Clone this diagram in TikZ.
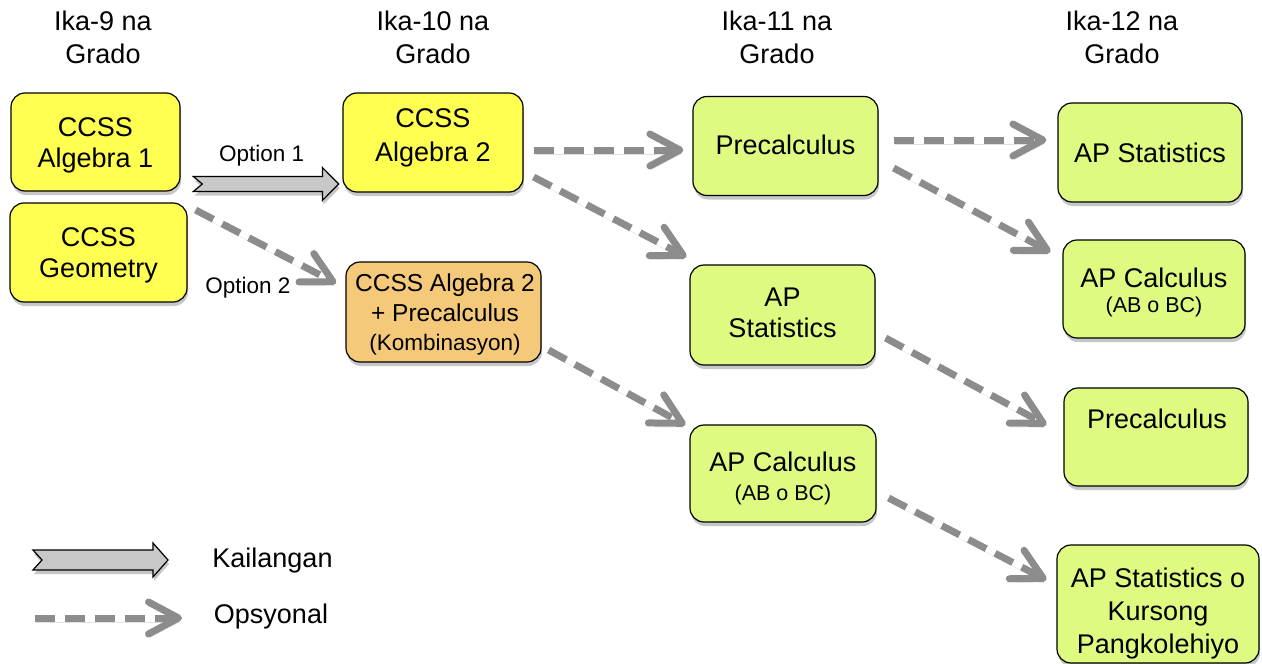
\documentclass[tikz,border=0pt]{standalone}
\usepackage{fontspec}
\setmainfont{Liberation Sans}
\usetikzlibrary{arrows.meta,shadows,calc}
\definecolor{cyel}{HTML}{FFFF52}
\definecolor{cgrn}{HTML}{DFFA80}
\definecolor{corg}{HTML}{F5C97A}
\definecolor{carr}{HTML}{8C8C8C}
\definecolor{cblk}{HTML}{C8C8C8}
\begin{document}
\begin{tikzpicture}[x=1pt,y=-1pt,
  box/.style={draw=black, line width=1.2pt, rounded corners=14pt, inner sep=0pt,
    drop shadow={shadow xshift=1pt, shadow yshift=-4pt, opacity=0.22, fill=black}},
  yel/.style={box, fill=cyel},
  grn/.style={box, fill=cgrn},
  org/.style={box, fill=corg},
  big/.style={font=\fontsize{27}{32}\selectfont, inner sep=0pt, anchor=base},
  mid/.style={font=\fontsize{24.5}{29}\selectfont, inner sep=0pt, anchor=base},
  sml/.style={font=\fontsize{22.5}{27}\selectfont, inner sep=0pt, anchor=base},
  tiny/.style={font=\fontsize{21.5}{26}\selectfont, inner sep=0pt, anchor=base},
  opt/.style={draw=carr, line width=7pt, dash pattern=on 20pt off 10pt,
    -{Straight Barb[length=30pt,width=32pt,round]},
    preaction={draw=black, opacity=0.12, transform canvas={xshift=1pt,yshift=-4pt}}},
  req/.style={draw=black, fill=cblk, line width=1.2pt, line join=miter,
    drop shadow={shadow xshift=1pt, shadow yshift=-4pt, opacity=0.22, fill=black}}
]
\useasboundingbox (0,0) rectangle (1262,664);

% column titles
\node[big] (t9a) at (103,30) {Ika-9 na};
\node[big] (t9b) at (103,63) {Grado};
\node[big] (t10a) at (433,30) {Ika-10 na};
\node[big] (t10b) at (433,63) {Grado};
\node[big] (t11a) at (777,30) {Ika-11 na};
\node[big] (t11b) at (777,63) {Grado};
\node[big] (t12a) at (1122,30) {Ika-12 na};
\node[big] (t12b) at (1122,63) {Grado};

% boxes
\node[yel, minimum width=169pt, minimum height=98pt] (alg1) at (95.5,142) {};
\node[yel, minimum width=177pt, minimum height=99pt] (geom) at (98.5,252.5) {};
\node[yel, minimum width=180pt, minimum height=99pt] (alg2) at (433,142.5) {};
\node[org, minimum width=195pt, minimum height=100pt] (combo) at (443.5,312) {};
\node[grn, minimum width=185pt, minimum height=99pt] (pre11) at (785.5,146) {};
\node[grn, minimum width=185pt, minimum height=100pt] (apst11) at (782.5,315) {};
\node[grn, minimum width=186pt, minimum height=97pt] (apcal11) at (783,473.5) {};
\node[grn, minimum width=184pt, minimum height=99pt] (apst12) at (1150,152.5) {};
\node[grn, minimum width=182pt, minimum height=98pt] (apcal12) at (1154,289) {};
\node[grn, minimum width=184pt, minimum height=98pt] (pre12) at (1156,437) {};
\node[grn, minimum width=202pt, minimum height=118pt] (apstk) at (1158,604) {};

% box texts
\node[big] (alg1a) at (95.5,136.7) {CCSS};
\node[big] (alg1b) at (95.5,167.7) {Algebra 1};
\node[big] (geoma) at (98.5,246.7) {CCSS};
\node[big] (geomb) at (98.5,277.7) {Geometry};
\node[big] (alg2a) at (433,127.7) {CCSS};
\node[big] (alg2b) at (433,161.7) {Algebra 2};
\node[mid] (comboa) at (445,291.8) {CCSS Algebra 2};
\node[mid] (combob) at (445,321.8) {+ Precalculus};
\node[sml] (comboc) at (445,350) {(Kombinasyon)};
\node[big] (pre11a) at (785.5,154.7) {Precalculus};
\node[big] (apst11a) at (782.5,306.4) {AP};
\node[big] (apst11b) at (782.5,337.7) {Statistics};
\node[big] (apcal11a) at (783,471.7) {AP Calculus};
\node[tiny] (apcal11b) at (783,500.7) {(AB o BC)};
\node[big] (apst12a) at (1150,162.7) {AP Statistics};
\node[big] (apcal12a) at (1154,287.7) {AP Calculus};
\node[tiny] (apcal12b) at (1154,312.7) {(AB o BC)};
\node[big] (pre12a) at (1157,428.7) {Precalculus};
\node[big] (apstka) at (1158,587.7) {AP Statistics o};
\node[big] (apstkb) at (1158,620.7) {Kursong};
\node[big] (apstkc) at (1158,653.7) {Pangkolehiyo};

% option labels
\node[sml] (op1) at (261.7,161.3) {Option 1};
\node[sml] (op2) at (248,293) {Option 2};

% required block arrow (Option 1)
\coordinate (o1s) at ($(alg1.east)+(12.7,42)$);
\coordinate (o1e) at ($(alg2.west)+(-3.7,41.5)$);
\path[req] ($(o1s)+(0,-7.5)$) -- ($(o1e)+(-16.3,-7.5)$) -- ($(o1e)+(-16.3,-16.5)$)
  -- (o1e) -- ($(o1e)+(-16.3,16.5)$) -- ($(o1e)+(-16.3,7.5)$)
  -- ($(o1s)+(0,7.5)$) -- ($(o1s)+(9,0)$) -- cycle;

% optional dashed arrows
\draw[opt] ($(geom.east)+(8,-42.5)$) -- ($(combo.west)+(-9.3,-28.7)$);
\draw[opt] ($(alg2.east)+(10,7.5)$) -- ($(pre11.west)+(-9,4)$);
\draw[opt] ($(alg2.east)+(10,34.5)$) -- ($(apst11.west)+(-3,-58)$);
\draw[opt] ($(combo.east)+(7,38)$) -- ($(apcal11.west)+(-4,-48.5)$);
\draw[opt] ($(pre11.east)+(15,-6)$) -- ($(apst12.west)+(-11,-12.5)$);
\draw[opt] ($(pre11.east)+(15,22)$) -- ($(apcal12.west)+(-12,-37)$);
\draw[opt] ($(apst11.east)+(10,23)$) -- ($(pre12.west)+(-17,-12)$);
\draw[opt] ($(apcal11.east)+(12,24.5)$) -- ($(apstk.west)+(-10,-24)$);

% legend
\node[big] (kail) at (272.5,567.7) {Kailangan};
\node[big] (opsy) at (271,623.7) {Opsyonal};
\coordinate (ls) at (33,560);
\coordinate (le) at (168,560);
\path[req] ($(ls)+(0,-10)$) -- ($(le)+(-15,-10)$) -- ($(le)+(-15,-17)$)
  -- (le) -- ($(le)+(-15,17)$) -- ($(le)+(-15,10)$)
  -- ($(ls)+(0,10)$) -- ($(ls)+(9,0)$) -- cycle;
\coordinate (ds) at (35,618);
\coordinate (de) at (182,618);
\draw[opt] (ds) -- (de);
\end{tikzpicture}
\end{document}
